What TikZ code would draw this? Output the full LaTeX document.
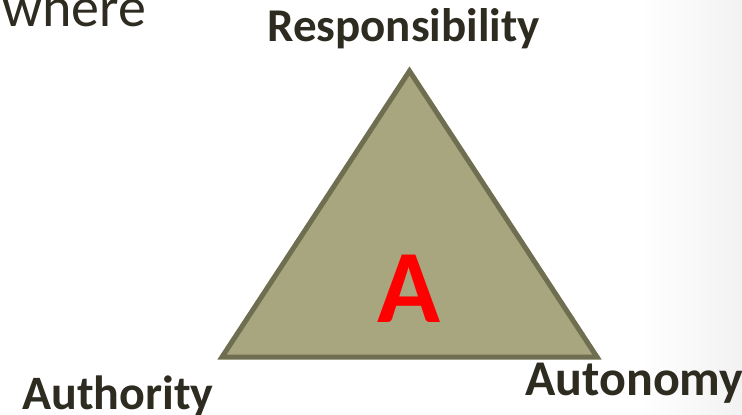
\documentclass[tikz,border=0pt]{standalone}
\usepackage{fontspec}
\setmainfont{Carlito}
\definecolor{ink}{HTML}{2E2B20}
\definecolor{olivefill}{HTML}{A8A67E}
\definecolor{oliveline}{HTML}{6F6E50}
\tikzset{
  corner/.style={anchor=base west,inner sep=0pt,text=ink,font=\fontsize{#1}{60}\selectfont\bfseries},
}
\begin{document}
\begin{tikzpicture}[x=1pt,y=-1pt]
\useasboundingbox (0,0) rectangle (742,415);
% soft shade along the right edge
\shade[left color=white,right color=black!5] (640,0) rectangle (742,415);

\path (409.5,71) coordinate (top);
\path (222,357) coordinate (left);
\path (597,357) coordinate (right);
\draw[line width=5pt,draw=oliveline,fill=olivefill,line join=miter] (top) -- (left) -- (right) -- cycle;

\path (409,322) node[anchor=base,inner sep=0pt,text=red,font=\fontsize{104}{110}\selectfont\bfseries] (letter) {A};

\path (2,27) node[anchor=base west,inner sep=0pt,text=ink,font=\fontsize{56}{60}\selectfont] (where) {where};
\path (403.5,41) node[anchor=base,inner sep=0pt,text=ink,font=\fontsize{47}{50}\selectfont\bfseries] (resp) {Responsibility};
\path (22,409) node[corner=48] (auth) {Authority};
\path (525,395) node[corner=50] (auto) {Autonomy};
\end{tikzpicture}
\end{document}
